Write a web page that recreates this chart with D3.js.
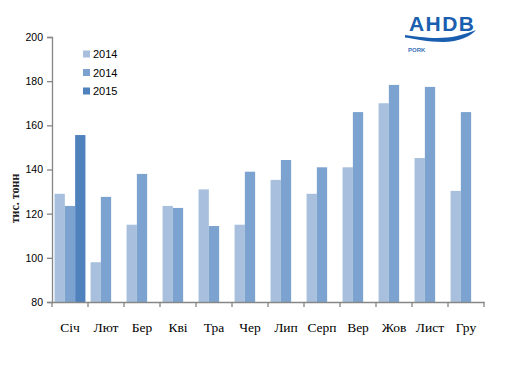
<!DOCTYPE html>
<html>
<head>
<meta charset="utf-8">
<script src="https://cdn.jsdelivr.net/npm/d3@7"></script>
<style>
  body { margin: 0; background: #fff; }
</style>
</head>
<body>
<div id="chart"></div>
<script>
const months = ["Січ", "Лют", "Бер", "Кві", "Тра", "Чер", "Лип", "Серп", "Вер", "Жов", "Лист", "Гру"];
const seriesNames = ["2014", "2014", "2015"];
const seriesA = [129, 98, 115, 123.5, 131, 115, 135.3, 129, 141, 170, 145.2, 130.3];
const seriesB = [123.5, 127.6, 138, 122.6, 114.4, 139, 144.3, 141, 166, 178.3, 177.4, 166];
const seriesC = [155.6, null, null, null, null, null, null, null, null, null, null, null];
const yTicks = [80, 100, 120, 140, 160, 180, 200];
const colors = ["#a8c0de", "#7ca3cf", "#4f81bd"];

const width = 506, height = 371;
const margin = { top: 37, right: 22, bottom: 69, left: 52 };

const svg = d3.select("#chart")
    .append("svg")
        .attr("width", width)
        .attr("height", height);

const x = d3.scaleBand()
    .domain(months)
    .range([margin.left, width - margin.right]);

const slot = d3.scaleBand()
    .domain([0, 1, 2])
    .range([0, x.bandwidth()])
    .paddingOuter(0.25);

const y = d3.scaleLinear()
    .domain([80, 200])
    .range([height - margin.bottom, margin.top]);

const rows = [];
[seriesA, seriesB, seriesC].forEach((s, i) => {
    s.forEach((v, j) => {
        if (v != null) rows.push({ month: months[j], series: i, value: v });
    });
});

svg.selectAll("rect.bar")
    .data(rows)
    .enter()
    .append("rect")
        .attr("class", "bar")
        .attr("x", d => x(d.month) + slot(d.series))
        .attr("y", d => y(d.value))
        .attr("width", slot.bandwidth())
        .attr("height", d => y(80) - y(d.value))
        .style("fill", d => colors[d.series]);

// y axis
const yAxis = svg.append("g")
    .attr("transform", `translate(${margin.left},0)`)
    .call(d3.axisLeft(y).tickValues(yTicks).tickSize(5).tickPadding(4));
yAxis.selectAll("text")
    .attr("font-family", "Liberation Sans, sans-serif")
    .attr("font-size", "10.5px")
    .attr("fill", "#000");

// x axis with ticks on band edges
const xAxis = svg.append("g")
    .attr("transform", `translate(0,${y(80)})`)
    .call(d3.axisBottom(x).tickSize(0).tickPadding(20));
xAxis.selectAll("text")
    .attr("font-family", "Liberation Serif, serif")
    .attr("font-size", "13.5px")
    .attr("fill", "#000");
xAxis.selectAll("line.edge")
    .data(months.map(m => x(m)).concat([x.range()[1]]))
    .enter()
    .append("line")
        .attr("class", "edge")
        .attr("x1", d => d).attr("x2", d => d)
        .attr("y1", 0).attr("y2", 5);

svg.selectAll(".domain, .tick line, line.edge")
    .attr("stroke", "#868686")
    .attr("stroke-width", 1.3);

// y label
svg.append("text")
    .attr("transform", `translate(19,${(y(200) + y(80)) / 2 + 29}) rotate(-90)`)
    .attr("text-anchor", "middle")
    .attr("font-family", "Liberation Serif, serif")
    .attr("font-weight", "bold")
    .attr("font-size", "12px")
    .attr("fill", "#222")
    .text("тис. тонн");

// legend
const legend = svg.selectAll("g.legend")
    .data(seriesNames)
    .enter()
    .append("g")
        .attr("class", "legend")
        .attr("transform", (d, i) => `translate(83,${54 + i * 18.5})`);
legend.append("rect")
    .attr("x", 0).attr("y", -3.5)
    .attr("width", 7).attr("height", 7)
    .style("fill", (d, i) => colors[i]);
legend.append("text")
    .attr("x", 10).attr("y", 4)
    .attr("font-family", "Liberation Sans, sans-serif")
    .attr("font-size", "11px")
    .attr("fill", "#000")
    .text(d => d);

// logo
const logo = svg.append("g").attr("transform", "translate(409,0)");
logo.append("text")
    .attr("x", 0).attr("y", 31)
    .attr("font-family", "Liberation Sans, sans-serif")
    .attr("font-weight", "bold")
    .attr("font-size", "21px")
    .attr("textLength", 65)
    .attr("fill", "#1a5eb0")
    .text("AHDB");
logo.append("path")
    .attr("d", "M-4,35 C10,37 30,40 48,36 C56,34 62,32 67,30 C62,36 50,42 34,42 C18,42 6,39 -4,37.5 Z")
    .attr("fill", "#1a5eb0");
logo.append("text")
    .attr("x", -1).attr("y", 52)
    .attr("font-family", "Liberation Sans, sans-serif")
    .attr("font-weight", "bold")
    .attr("font-size", "6px")
    .attr("fill", "#3b73b9")
    .text("PORK");
</script>
</body>
</html>
